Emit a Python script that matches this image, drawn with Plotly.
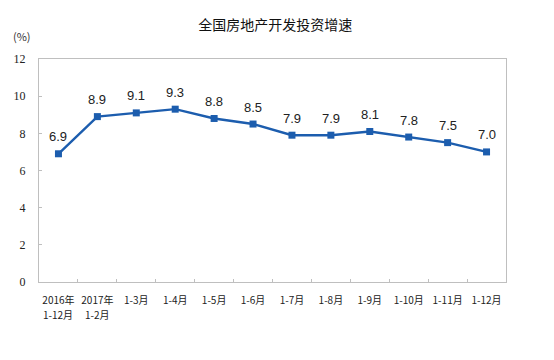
import plotly.graph_objects as go

categories = ["2016年 1-12月", "2017年 1-2月", "1-3月", "1-4月", "1-5月", "1-6月",
              "1-7月", "1-8月", "1-9月", "1-10月", "1-11月", "1-12月"]
tick_line1 = ["2016年", "2017年", "1-3月", "1-4月", "1-5月", "1-6月",
              "1-7月", "1-8月", "1-9月", "1-10月", "1-11月", "1-12月"]
tick_line2 = ["1-12月", "1-2月", "", "", "", "", "", "", "", "", "", ""]
values = [6.9, 8.9, 9.1, 9.3, 8.8, 8.5, 7.9, 7.9, 8.1, 7.8, 7.5, 7.0]
y_ticks = [0, 2, 4, 6, 8, 10, 12]

line_color = "#1C5DAE"
tick_font = dict(family="Noto Sans CJK SC", size=10, color="#222222")

fig = go.Figure()
fig.add_trace(go.Scatter(
    x=categories, y=values, mode="lines+markers",
    line=dict(color=line_color, width=2.4),
    marker=dict(symbol="square", size=7, color=line_color),
    hoverinfo="skip", showlegend=False,
))

for c, v in zip(categories, values):
    fig.add_annotation(x=c, y=v, text=f"{v:.1f}", showarrow=False, yshift=17,
                       font=dict(family="Liberation Sans, Arial", size=13, color="#222222"))

for c, t in zip(categories, tick_line2):
    if t:
        fig.add_annotation(x=c, yref="paper", y=0, yanchor="top", text=t, showarrow=False,
                           yshift=-23, font=tick_font)

fig.add_annotation(xref="paper", yref="paper", x=-0.036, y=1.06, xanchor="center", yanchor="bottom",
                   text="(%)", showarrow=False,
                   font=dict(family="Noto Sans CJK SC", size=11, color="#333333"))

fig.update_layout(
    width=554, height=360,
    margin=dict(l=39, r=48, t=59, b=78),
    paper_bgcolor="white", plot_bgcolor="white",
    title=dict(text="全国房地产开发投资增速", x=0.497, xanchor="center", y=0.93, yanchor="middle",
               font=dict(family="Noto Sans CJK SC", size=14, color="#111111")),
    xaxis=dict(
        type="category", showgrid=False, showline=True, linecolor="#BFBFBF", linewidth=1,
        mirror=True, ticks="inside", tickson="boundaries", ticklen=3, tickcolor="#BFBFBF",
        tickmode="array", tickvals=categories, ticktext=tick_line1,
        ticklabelstandoff=9, tickfont=tick_font,
        tickangle=0, range=[-0.5, 11.5], automargin=False,
    ),
    yaxis=dict(
        range=[0, 12], tickvals=y_ticks, showgrid=False, showline=True, linecolor="#BFBFBF",
        linewidth=1, mirror=True, ticks="inside", ticklen=3, tickcolor="#BFBFBF",
        ticklabelstandoff=10,
        tickfont=dict(family="Liberation Serif, Times New Roman", size=12, color="#222222"),
        zeroline=False, automargin=False,
    ),
)

fig.write_html("out.html", config={"displayModeBar": False},
               post_script="document.body.style.margin='0';document.body.style.padding='0';")
